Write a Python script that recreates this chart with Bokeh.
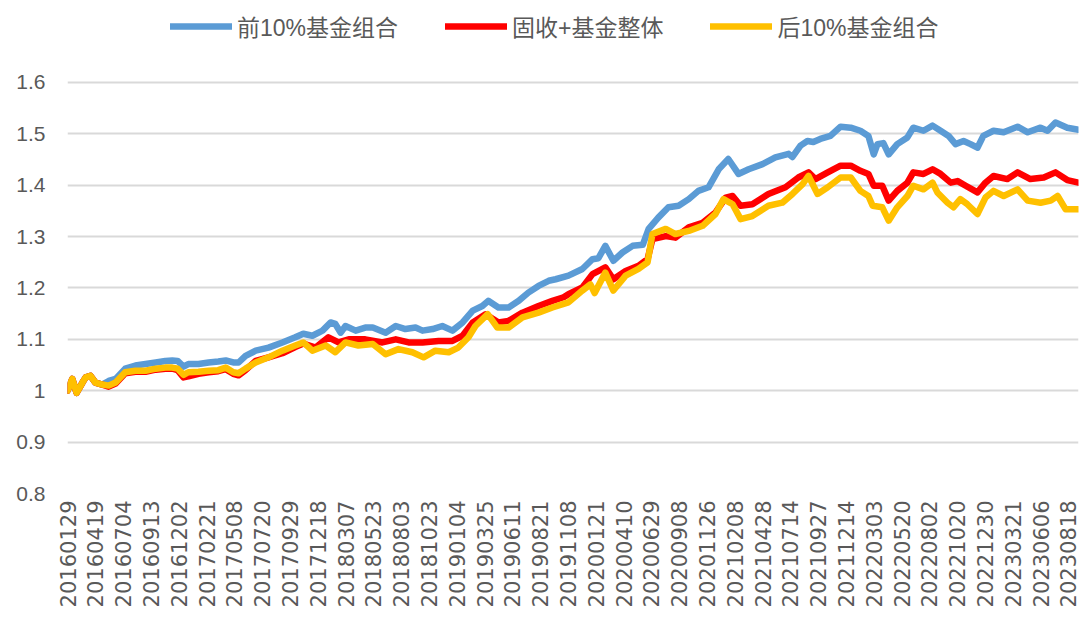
from bokeh.plotting import figure
from bokeh.models import (Range1d, FixedTicker, CustomJSTickFormatter, Legend, LegendItem)
from bokeh.embed import file_html
from bokeh.resources import INLINE
import math

# ---------------- data ----------------
series_names = ["前10%基金组合", "固收+基金整体", "后10%基金组合"]
series_colors = ["#5B9BD5", "#FF0000", "#FFC000"]

xtick_labels = ["20160129", "20160419", "20160704", "20160913", "20161202", "20170221",
                "20170508", "20170720", "20170929", "20171218", "20180307", "20180523",
                "20180803", "20181023", "20190104", "20190325", "20190611", "20190821",
                "20191108", "20200121", "20200410", "20200629", "20200908", "20201126",
                "20210208", "20210428", "20210714", "20210927", "20211214", "20220303",
                "20220520", "20220802", "20221020", "20221230", "20230321", "20230606",
                "20230818"]
tick_step = 52          # trading days between labelled dates
last_day = 1891         # index of the last trading day shown

ytick_values = [0.8, 0.9, 1.0, 1.1, 1.2, 1.3, 1.4, 1.5, 1.6]

top_x = [0, 9, 17, 28, 34, 43, 52, 65, 77, 90, 108, 127, 146, 165, 183, 196, 206, 217, 226,
         245, 264, 282, 296, 310, 320, 333, 352, 376, 402, 426, 441, 458, 477, 492, 501, 511,
         520, 539, 557, 571, 595, 614, 632, 651, 664, 683, 701, 720, 739, 758, 776, 787, 806,
         825, 844, 862, 881, 900, 913, 937, 963, 982, 993, 1006, 1021, 1038, 1057, 1076, 1087,
         1105, 1124, 1143, 1162, 1180, 1199, 1218, 1236, 1255, 1274, 1300, 1324, 1349, 1356,
         1371, 1384, 1395, 1408, 1427, 1446, 1465, 1483, 1498, 1508, 1515, 1526, 1536, 1552,
         1571, 1582, 1601, 1618, 1633, 1648, 1661, 1676, 1689, 1702, 1713, 1732, 1751, 1777,
         1796, 1820, 1833, 1848, 1870, 1891]
top_y = [1.000, 1.023, 0.996, 1.016, 1.026, 1.029, 1.016, 1.012, 1.019, 1.023, 1.043, 1.049,
         1.052, 1.055, 1.058, 1.059, 1.058, 1.047, 1.052, 1.052, 1.055, 1.057, 1.059, 1.055,
         1.055, 1.068, 1.078, 1.084, 1.094, 1.104, 1.111, 1.107, 1.117, 1.133, 1.130, 1.113,
         1.126, 1.117, 1.123, 1.123, 1.113, 1.126, 1.120, 1.123, 1.117, 1.120, 1.126, 1.117,
         1.133, 1.156, 1.165, 1.175, 1.162, 1.162, 1.175, 1.191, 1.204, 1.214, 1.217, 1.224,
         1.237, 1.256, 1.258, 1.282, 1.253, 1.269, 1.282, 1.284, 1.315, 1.337, 1.357, 1.360,
         1.373, 1.389, 1.396, 1.431, 1.451, 1.422, 1.431, 1.441, 1.454, 1.461, 1.455, 1.477,
         1.486, 1.484, 1.490, 1.496, 1.514, 1.512, 1.506, 1.496, 1.460, 1.480, 1.482, 1.460,
         1.480, 1.493, 1.512, 1.506, 1.516, 1.506, 1.496, 1.480, 1.486, 1.480, 1.473, 1.496,
         1.506, 1.503, 1.514, 1.503, 1.512, 1.506, 1.522, 1.512, 1.508]

all_x = [0, 9, 17, 28, 34, 43, 52, 65, 77, 90, 108, 127, 146, 165, 183, 196, 206, 217, 226,
         245, 264, 282, 296, 310, 320, 333, 352, 376, 402, 426, 441, 464, 488, 507, 526, 557,
         589, 614, 638, 664, 694, 720, 739, 758, 782, 806, 825, 851, 881, 907, 928, 937, 963,
         982, 1006, 1021, 1044, 1068, 1085, 1094, 1119, 1137, 1162, 1188, 1212, 1231, 1244,
         1259, 1281, 1311, 1343, 1367, 1386, 1399, 1422, 1446, 1465, 1483, 1498, 1508, 1524,
         1536, 1552, 1571, 1582, 1601, 1618, 1633, 1652, 1665, 1680, 1702, 1717, 1732, 1758,
         1777, 1801, 1826, 1848, 1870, 1891]
all_y = [1.000, 1.023, 0.996, 1.016, 1.026, 1.029, 1.016, 1.012, 1.008, 1.014, 1.034, 1.037,
         1.037, 1.041, 1.043, 1.043, 1.040, 1.026, 1.028, 1.033, 1.036, 1.038, 1.042, 1.033,
         1.030, 1.040, 1.058, 1.065, 1.073, 1.085, 1.092, 1.084, 1.104, 1.094, 1.100, 1.100,
         1.094, 1.100, 1.094, 1.094, 1.097, 1.097, 1.107, 1.133, 1.149, 1.133, 1.136, 1.152,
         1.165, 1.175, 1.182, 1.188, 1.201, 1.227, 1.240, 1.217, 1.233, 1.243, 1.256, 1.295,
         1.301, 1.298, 1.318, 1.327, 1.347, 1.376, 1.379, 1.360, 1.363, 1.383, 1.396, 1.415,
         1.425, 1.412, 1.425, 1.438, 1.438, 1.428, 1.422, 1.399, 1.399, 1.370, 1.389, 1.405,
         1.425, 1.422, 1.431, 1.422, 1.405, 1.408, 1.399, 1.386, 1.405, 1.418, 1.412, 1.425,
         1.412, 1.415, 1.425, 1.410, 1.405]

bottom_x = [0, 9, 17, 28, 34, 43, 52, 65, 77, 90, 108, 127, 146, 165, 183, 196, 206, 217, 226,
            245, 264, 282, 296, 310, 320, 333, 352, 376, 402, 426, 441, 458, 483, 501, 520, 544,
            571, 595, 619, 645, 666, 688, 713, 731, 750, 763, 786, 804, 825, 851, 881, 907, 928,
            937, 963, 978, 986, 1006, 1021, 1044, 1068, 1085, 1094, 1119, 1137, 1162, 1188, 1212,
            1227, 1244, 1259, 1281, 1311, 1337, 1356, 1375, 1386, 1403, 1422, 1446, 1465, 1483,
            1498, 1506, 1524, 1536, 1552, 1571, 1582, 1601, 1618, 1627, 1646, 1657, 1670, 1683,
            1702, 1717, 1732, 1751, 1777, 1796, 1820, 1839, 1852, 1867, 1891]
bottom_y = [1.000, 1.023, 0.996, 1.016, 1.026, 1.029, 1.016, 1.012, 1.010, 1.016, 1.036, 1.039,
            1.039, 1.043, 1.045, 1.045, 1.043, 1.031, 1.036, 1.037, 1.039, 1.040, 1.045, 1.036,
            1.034, 1.043, 1.055, 1.065, 1.078, 1.088, 1.094, 1.078, 1.088, 1.075, 1.094, 1.088,
            1.091, 1.071, 1.081, 1.075, 1.065, 1.078, 1.075, 1.084, 1.104, 1.126, 1.149, 1.123,
            1.123, 1.143, 1.152, 1.162, 1.169, 1.172, 1.195, 1.207, 1.190, 1.230, 1.195, 1.224,
            1.237, 1.250, 1.305, 1.315, 1.305, 1.311, 1.321, 1.344, 1.373, 1.363, 1.334, 1.340,
            1.360, 1.366, 1.383, 1.402, 1.418, 1.383, 1.396, 1.415, 1.415, 1.389, 1.379, 1.360,
            1.357, 1.331, 1.357, 1.379, 1.399, 1.392, 1.405, 1.386, 1.366, 1.357, 1.373, 1.363,
            1.344, 1.376, 1.389, 1.379, 1.392, 1.370, 1.366, 1.370, 1.379, 1.353, 1.353]

# ---------------- figure ----------------
TEXT_COLOR = "#595959"
# plot area reaches to the top of the chart so that the legend sits inside it,
# above the highest gridline (1.6)
y_top = 1.6 + 82.0 / 514.0

p = figure(width=1088, height=626, output_backend="svg", toolbar_location=None,
           x_range=Range1d(0, last_day), y_range=Range1d(ytick_values[0], y_top),
           min_border_left=67, min_border_right=10, min_border_top=0, min_border_bottom=133)
p.outline_line_color = None
p.background_fill_color = "white"
p.border_fill_color = "white"

p.xgrid.grid_line_color = None
p.ygrid.grid_line_color = "#d9d9d9"
p.ygrid.grid_line_width = 2

xticks = [i * tick_step for i in range(len(xtick_labels))]
p.xaxis.ticker = FixedTicker(ticks=xticks)
p.xaxis.formatter = CustomJSTickFormatter(args=dict(labels=xtick_labels, step=tick_step),
                                          code="const i = Math.round(tick / step); return labels[i] || '';")
p.xaxis.major_label_orientation = math.pi / 2
p.xaxis.major_label_text_font = "DejaVu Sans"
p.xaxis.major_label_text_font_size = "21px"
p.xaxis.major_label_text_color = TEXT_COLOR
p.xaxis.major_label_standoff = 7
p.xaxis.axis_line_color = None
p.xaxis.major_tick_line_color = None
p.xaxis.minor_tick_line_color = None
p.xaxis.major_tick_out = 0
p.xaxis.major_tick_in = 0

p.yaxis.ticker = FixedTicker(ticks=ytick_values)
p.yaxis.formatter = CustomJSTickFormatter(code="return String(Math.round(tick * 10) / 10);")
p.yaxis.major_label_text_font = "Liberation Sans"
p.yaxis.major_label_text_font_size = "21px"
p.yaxis.major_label_text_color = TEXT_COLOR
p.yaxis.major_label_standoff = 22
p.yaxis.axis_line_color = None
p.yaxis.major_tick_line_color = None
p.yaxis.minor_tick_line_color = None
p.yaxis.major_tick_out = 0
p.yaxis.major_tick_in = 0

renderers = []
for xs, ys, col in [(top_x, top_y, series_colors[0]),
                    (all_x, all_y, series_colors[1]),
                    (bottom_x, bottom_y, series_colors[2])]:
    r = p.line(xs, ys, line_color=col, line_width=6.5, line_join="round", line_cap="round")
    renderers.append(r)

legend = Legend(items=[LegendItem(label=n, renderers=[r]) for n, r in zip(series_names, renderers)],
                orientation="horizontal", location=(103, 450),
                glyph_width=62, glyph_height=28, label_height=28, label_standoff=5, spacing=47,
                padding=0, margin=0,
                label_text_font="Liberation Sans, Noto Sans CJK SC", label_text_font_size="23px",
                label_text_color=TEXT_COLOR, label_text_baseline="middle",
                border_line_color=None, background_fill_alpha=0)
p.add_layout(legend, "center")

open("out.html", "w").write(file_html(p, INLINE))
